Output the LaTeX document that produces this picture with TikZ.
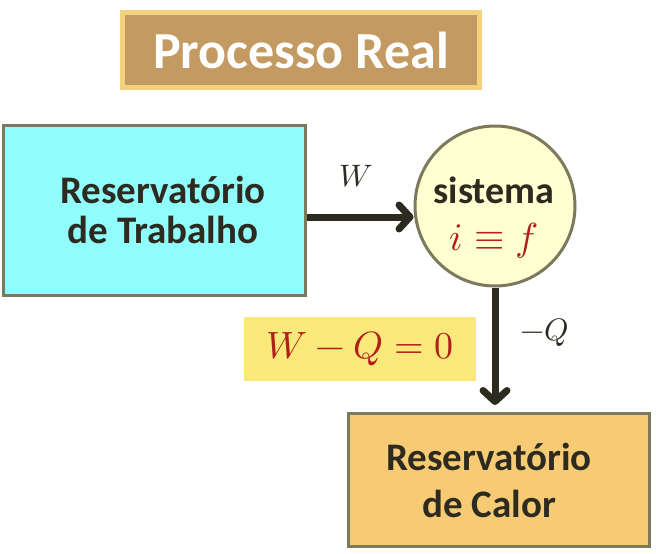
\documentclass[tikz,border=0pt]{standalone}
\usepackage{fontspec}
\usepackage{unicode-math}
\setmainfont{Carlito}
\usetikzlibrary{arrows.meta}
\definecolor{ink}{RGB}{45,42,32}
\definecolor{rim}{RGB}{123,122,92}
\definecolor{aqua}{RGB}{144,252,252}
\definecolor{cream}{RGB}{255,255,210}
\definecolor{amber}{RGB}{246,203,116}
\definecolor{lemon}{RGB}{249,232,122}
\definecolor{tan}{RGB}{194,154,98}
\definecolor{goldrim}{RGB}{243,210,127}
\definecolor{eqred}{RGB}{176,32,26}
\tikzset{
    reservoir/.style={rectangle,draw=rim,line width=3pt,text=ink,align=center,font=\bfseries},
    sysnode/.style={circle,draw=rim,line width=3pt,fill=cream,minimum size=160pt,inner sep=0pt},
    flow/.style={-{Straight Barb[length=11pt,width=24pt,round]},line width=7pt,draw=ink},
    flowlabel/.style={text=ink,font=\fontsize{31}{31}\selectfont},
}

\begin{document}
\begin{tikzpicture}[x=1pt,y=-1pt]
\useasboundingbox (0,0) rectangle (656,554);
\node[rectangle,draw=goldrim,line width=5pt,fill=tan,minimum width=357pt,minimum height=75pt,
      text=white,font=\fontsize{52}{52}\selectfont\bfseries] (title) at (301,50) {Processo Real};
\node[reservoir,fill=aqua,minimum width=302pt,minimum height=170pt,
      font=\fontsize{39}{40}\selectfont\bfseries] (trab) at (154,210)
      {\hspace*{18pt}Reservatório\\\hspace*{18pt}de Trabalho};
\node[sysnode] (sis) at (495,206) {};
\node[text=ink,font=\fontsize{38}{38}\selectfont\bfseries] (sisname) at (494,190) {sistema};
\node[text=eqred,font=\fontsize{39}{39}\selectfont] (sisstate) at (494,241) {$i\equiv f$};
\node[reservoir,fill=amber,minimum width=301pt,minimum height=133pt,
      font=\fontsize{39}{47}\selectfont\bfseries] (cal) at (499,480)
      {Reservatório\hspace*{20pt}\\de Calor\hspace*{20pt}};
\node[rectangle,fill=lemon,minimum width=232pt,minimum height=64pt,
      text=eqred,font=\fontsize{38}{38}\selectfont] (bal) at (360,349) {$W-Q=0$};
\draw[flow] ([yshift=-7pt]trab.east) -- ([yshift=-7pt]trab.east -| sis.west);
\draw[flow,shorten >=7pt] (sis.south) -- (sis.south |- cal.north);
\node[flowlabel] (wlab) at (356,176) {$W$};
\node[flowlabel] (qlab) at (545,333) {$-Q$};
\end{tikzpicture}
\end{document}
